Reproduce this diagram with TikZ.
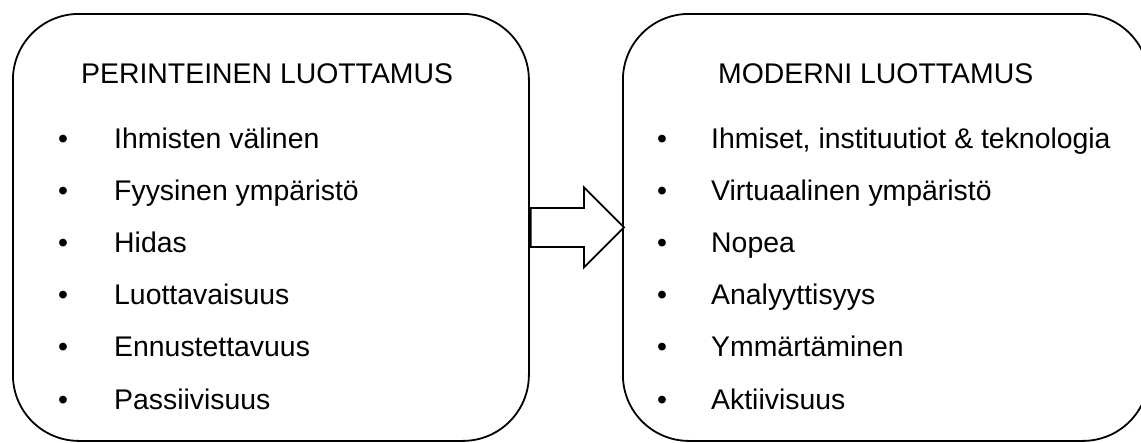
\documentclass[tikz,border=0pt]{standalone}
\usepackage{fontspec}
\setmainfont{Liberation Sans}
\usetikzlibrary{calc}
\begin{document}
\begin{tikzpicture}[x=1pt,y=-1pt,
  box/.style={draw=black, line width=1.8pt, rounded corners=66pt, fill=white, inner sep=0pt, anchor=north west},
  txt/.style={inner sep=0pt, anchor=base west, font=\fontsize{28.4}{34}\selectfont},
  bul/.style={inner sep=0pt, anchor=base, font=\fontsize{28.4}{34}\selectfont},
  blockarrow/.style={draw=black, line width=1.8pt, fill=white, line join=miter}]
\useasboundingbox (0,0) rectangle (1141,442);
\clip (0,0) rectangle (1141,442);
\node[box, minimum width=516pt, minimum height=427pt] (left) at (12,13) {};
\node[box, minimum width=526pt, minimum height=427pt] (right) at (622,13) {};
% titles
\node[txt] (lt) at (81,83) {PERINTEINEN LUOTTAMUS};
\node[txt] (rt) at (718,83) {MODERNI LUOTTAMUS};
% left items
\foreach \t [count=\i from 0] in {Ihmisten välinen, Fyysinen ympäristö, Hidas, Luottavaisuus, Ennustettavuus, Passiivisuus}{
  \node[bul] (lb\i) at (63,148+52.2*\i) {•};
  \node[txt] (li\i) at (114,148+52.2*\i) {\t};
}
% right items
\foreach \t [count=\i from 0] in {{Ihmiset, instituutiot \& teknologia}, Virtuaalinen ympäristö, Nopea, Analyyttisyys, Ymmärtäminen, Aktiivisuus}{
  \node[bul] (rb\i) at (662,148+52.2*\i) {•};
  \node[txt] (ri\i) at (711,148+52.2*\i) {\t};
}
% block arrow from left box to right box
\coordinate (tail) at ($(left.east)+(1,0)$);
\coordinate (tip) at ($(right.west)+(2,0)$);
\draw[blockarrow] ($(tail)+(0,-19.5)$) -- ($(tip)+(-40,-19.5)$) -- ($(tip)+(-40,-40)$) -- (tip)
  -- ($(tip)+(-40,40)$) -- ($(tip)+(-40,19.5)$) -- ($(tail)+(0,19.5)$) -- cycle;
\end{tikzpicture}
\end{document}
